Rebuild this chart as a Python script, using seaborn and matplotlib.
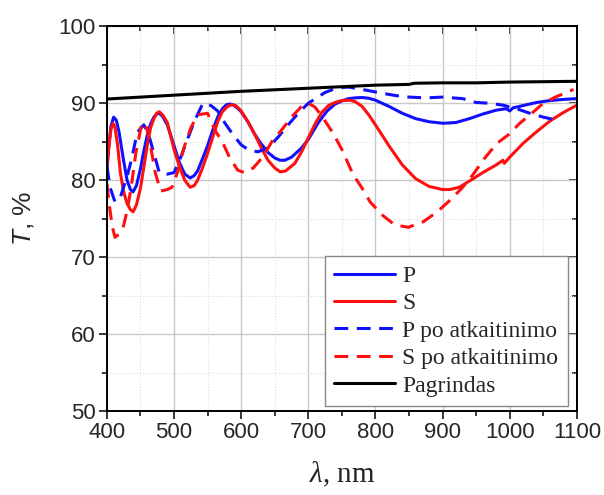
import numpy as np
import pandas as pd
import seaborn as sns
import matplotlib.pyplot as plt
from matplotlib.ticker import MultipleLocator

# values
p_x = [400, 403, 406, 410, 414, 418, 424, 430, 435, 439, 444, 450, 455, 460, 465, 470, 474, 478, 483,
       490, 500, 508, 516, 524, 530, 535, 542, 550, 558, 565, 572, 578, 583, 588, 594, 600, 610, 620,
       630, 640, 650, 658, 665, 675, 690, 700, 715, 728, 740, 750, 760, 770, 780, 790, 800, 820, 840,
       860, 880, 901, 920, 940, 960, 980, 995, 1000, 1005, 1020, 1040, 1060, 1080, 1100]
p_y = [81.3, 84.5, 87.0, 88.2, 87.8, 86.3, 83.0, 80.0, 78.8, 78.5, 79.3, 81.5, 83.8, 85.8, 87.3, 88.2,
       88.6, 88.7, 88.3, 87.2, 84.5, 82.3, 80.8, 80.3, 80.6, 81.2, 82.7, 84.5, 86.6, 88.2, 89.3, 89.8,
       89.9, 89.8, 89.4, 88.9, 87.6, 86.0, 84.7, 83.6, 82.9, 82.6, 82.6, 83.0, 84.2, 85.3, 87.5, 89.0,
       89.9, 90.3, 90.6, 90.7, 90.75, 90.65, 90.4, 89.6, 88.7, 88.0, 87.6, 87.4, 87.5, 88.0, 88.6, 89.1,
       89.3, 89.0, 89.4, 89.7, 90.1, 90.35, 90.5, 90.6]

s_x = [400, 403, 406, 409, 412, 416, 420, 425, 430, 435, 439, 444, 450, 455, 460, 465, 470, 474,
       478, 483, 490, 500, 508, 516, 524, 530, 535, 542, 550, 558, 565, 572, 580, 586, 592, 600, 610,
       620, 630, 640, 650, 658, 666, 680, 690, 700, 710, 720, 730, 740, 750, 762, 770, 780, 790, 800,
       820, 840, 860, 880, 900, 911, 925, 940, 960, 980, 990, 992, 1000, 1020, 1040, 1060, 1080, 1100]
s_y = [81.8, 84.5, 86.6, 87.4, 86.9, 84.5, 81.0, 78.5, 77.0, 76.2, 75.9, 76.8, 79.0, 81.7, 84.5, 86.8,
       88.0, 88.7, 88.9, 88.5, 87.5, 84.0, 81.8, 80.0, 79.1, 79.3, 80.0, 81.5, 83.5, 85.7, 87.6, 88.9,
       89.6, 89.8, 89.7, 89.0, 87.6, 86.0, 84.2, 82.6, 81.6, 81.1, 81.2, 82.2, 83.7, 85.5, 87.3, 88.8,
       89.7, 90.1, 90.35, 90.4, 90.2, 89.6, 88.5, 87.2, 84.5, 82.0, 80.2, 79.2, 78.8, 78.8, 79.1, 79.9,
       81.0, 82.0, 82.6, 82.2, 83.0, 84.8, 86.3, 87.7, 88.8, 89.75]

pa_x = [400, 405, 412, 420, 430, 437, 445, 455, 462, 470, 478, 490, 500, 510, 520, 530,
        543, 555, 565, 576, 588, 600, 612, 625, 640, 655, 670, 685, 700, 725, 743, 760,
        780, 810, 830, 850, 875, 900, 930, 950, 970, 990, 1010, 1030, 1050, 1075]
pa_y = [81.8, 79.0, 77.2, 77.8, 80.5, 82.8, 86.2, 87.2, 86.0, 83.5, 81.0, 80.8, 81.0, 83.0, 85.3, 87.6,
        90.0, 89.7, 89.0, 87.4, 85.9, 84.6, 83.9, 83.7, 84.2, 85.6, 87.2, 88.7, 90.0, 91.4, 92.0, 92.1,
        91.8, 91.3, 91.0, 90.8, 90.7, 90.8, 90.6, 90.1, 90.0, 89.75, 89.3, 88.7, 88.2, 87.7]

sa_x = [400, 404, 408, 412, 418, 424, 430, 436, 443, 452, 458, 465, 472, 480, 490, 497,
        505, 515, 525, 535, 550, 561, 573, 583, 595, 605, 618, 632, 647, 660, 675, 690,
        700, 710, 722, 737, 750, 767, 780, 792, 810, 829, 849, 871, 892, 911, 929, 945,
        963, 981, 998, 1015, 1033, 1050, 1068, 1090, 1095]
sa_y = [79.5, 76.5, 74.0, 72.6, 73.0, 73.8, 76.0, 79.0, 83.5, 87.4, 87.2, 84.5, 81.0, 78.6, 78.8, 79.1,
        81.0, 84.3, 86.8, 88.5, 88.7, 86.5, 84.8, 82.9, 81.3, 81.0, 81.6, 83.0, 85.2, 86.5, 88.2, 89.6,
        90.0, 89.5, 88.1, 86.1, 84.0, 80.7, 79.0, 77.2, 75.5, 74.2, 73.9, 74.6, 75.9, 77.4, 79.0, 80.7,
        82.9, 84.8, 85.9, 87.4, 88.7, 90.0, 90.8, 91.6, 91.8]

b_x = [400, 450, 500, 550, 600, 650, 700, 750, 800, 850, 858, 900, 950, 1000, 1050, 1100]
b_y = [90.55, 90.8, 91.05, 91.3, 91.55, 91.75, 91.95, 92.15, 92.35, 92.45, 92.6, 92.65, 92.65, 92.75, 92.8, 92.85]

sns.set_theme(style="ticks")
plt.rcParams["font.family"] = ["Liberation Sans", "DejaVu Sans"]
plt.rcParams["mathtext.fontset"] = "custom"
plt.rcParams["mathtext.it"] = "Liberation Serif:italic"
plt.rcParams["mathtext.rm"] = "Liberation Serif"
plt.rcParams["mathtext.sf"] = "Liberation Sans:italic"

fig, ax = plt.subplots(figsize=(6.04, 4.95), dpi=100)
fig.subplots_adjust(left=0.177, right=0.955, bottom=0.169, top=0.947)

series = [
    (p_x, p_y, "P", "#1010ff", "-"),
    (s_x, s_y, "S", "#ff1010", "-"),
    (pa_x, pa_y, "P po atkaitinimo", "#1010ff", "--"),
    (sa_x, sa_y, "S po atkaitinimo", "#ff1010", "--"),
    (b_x, b_y, "Pagrindas", "black", "-"),
]
for xs, ys, name, col, ls in series:
    df = pd.DataFrame({"x": xs, "y": ys})
    sns.lineplot(data=df, x="x", y="y", ax=ax, color=col, lw=2.2, label=name, sort=False)
    if ls == "--":
        ax.lines[-1].set_dashes([4.5, 2.8])

ax.set_xlim(400, 1100)
ax.set_ylim(50, 100)
ax.xaxis.set_major_locator(MultipleLocator(100))
ax.xaxis.set_minor_locator(MultipleLocator(50))
ax.yaxis.set_major_locator(MultipleLocator(10))
ax.yaxis.set_minor_locator(MultipleLocator(5))
ax.grid(which="major", color="#c8c8c8", lw=1.0)
ax.grid(which="minor", color="#dcdcdc", lw=0.8, ls=":")
ax.set_axisbelow(True)

for sp in ax.spines.values():
    sp.set_linewidth(1.4)
    sp.set_color("black")
ax.tick_params(which="both", direction="out", bottom=True, left=True, width=1.3, labelsize=16, pad=2)
ax.tick_params(which="major", length=6)
ax.tick_params(which="minor", length=3.5)

# inward ticks on the top and right edges
top = ax.secondary_xaxis("top")
top.xaxis.set_major_locator(MultipleLocator(100))
top.xaxis.set_minor_locator(MultipleLocator(50))
top.tick_params(which="both", direction="in", labeltop=False, width=1.3)
top.tick_params(which="major", length=6)
top.tick_params(which="minor", length=3.5)
right = ax.secondary_yaxis("right")
right.yaxis.set_major_locator(MultipleLocator(10))
right.yaxis.set_minor_locator(MultipleLocator(5))
right.tick_params(which="both", direction="in", labelright=False, width=1.3)
right.tick_params(which="major", length=6)
right.tick_params(which="minor", length=3.5)

ax.set_xlabel(r"$\lambda$, nm", family="Liberation Serif", fontsize=21, labelpad=12)
ax.set_ylabel(r"$\mathsf{T}$, %", fontsize=19, labelpad=16)

leg = ax.legend(loc="lower right", prop={"family": "Liberation Serif", "size": 17},
                frameon=True, fancybox=False, edgecolor="#888888", framealpha=1,
                handlelength=2.6, handletextpad=0.3, labelspacing=0.25,
                borderpad=0.4, borderaxespad=0, bbox_to_anchor=(0.981, 0.014))
leg.get_frame().set_linewidth(1.0)

fig.savefig("out.png", dpi=100)
